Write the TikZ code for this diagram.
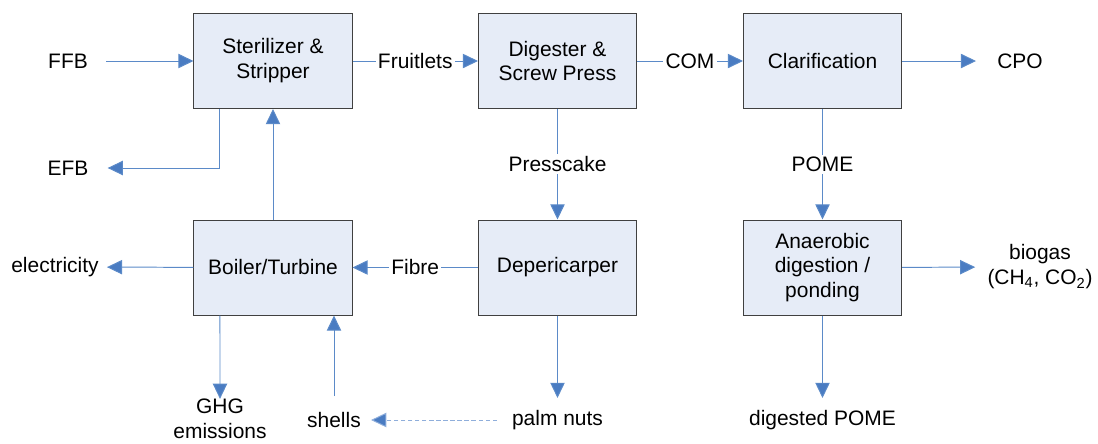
\documentclass[tikz,border=0pt]{standalone}
\usepackage{fontspec}
\setmainfont{Liberation Sans}
\usetikzlibrary{arrows.meta,positioning}

\definecolor{boxfill}{HTML}{E6ECF7}
\definecolor{linkblue}{HTML}{5B8AC8}
\definecolor{tipblue}{HTML}{4A7CC2}
\definecolor{paleblue}{HTML}{8FAEDB}

\tikzset{
  unit/.style={draw=black!75, fill=boxfill, line width=0.7pt, minimum width=3.95cm,
    minimum height=2.375cm, align=center, inner sep=0pt},
  flow/.style={draw=linkblue, line width=0.7pt,
    -{Triangle[length=0.38cm,width=0.36cm,fill=tipblue]}},
  onlink/.style={fill=white, inner sep=1.5pt},
  outer/.style={inner sep=0pt, align=center}
}

\begin{document}
\begin{tikzpicture}[x=0.025cm, y=-0.025cm, font=\fontsize{14.9}{17.7}\selectfont]
    \useasboundingbox (0,0) rectangle (1098,443);
    % Process units
    \node[unit] (ster) at (273,61) {Sterilizer \&\\Stripper};
    \node[unit] (dig) at (557.5,61) {Digester \&\\Screw Press};
    \node[unit] (clar) at (822.5,61) {Clarification};
    \node[unit] (boil) at (273,267.5) {Boiler/Turbine};
    \node[unit] (dep) at (557.5,267.5) {Depericarper};
    \node[unit] (anae) at (822.5,267.5) {Anaerobic\\digestion /\\ponding};
    % Inputs and outputs
    \node[outer] (ffb) at (68,61) {FFB};
    \node[outer] (efb) at (68,168) {EFB};
    \node[outer] (cpo) at (1020,61) {CPO};
    \node[outer] (elec) at (55,267) {electricity};
    \node[outer] (ghg) at (220,419) {GHG\\emissions};
    \node[outer] (shells) at (334,420) {shells};
    \node[outer] (nuts) at (557.5,420) {palm nuts};
    \node[outer] (biogas) at (1040,267) {biogas\\(CH\textsubscript{4}, CO\textsubscript{2})};
    \node[outer] (dpome) at (822.5,420) {digested POME};
    % Main line
    \draw[flow, shorten <=0.45cm] (ffb) -- (ster);
    \draw[flow] (ster) -- node[onlink] {Fruitlets} (dig);
    \draw[flow] (dig) -- node[onlink] {COM} (clar);
    \draw[flow, shorten >=0.525cm] (clar) -- (cpo);
    \draw[flow, shorten >=0.475cm] ([xshift=-1.325cm]ster.south) |- (efb.east);
    % Press and oil side
    \draw[flow] (dig) -- node[onlink] {Presscake} (dep);
    \draw[flow] (clar) -- node[onlink] {POME} (anae);
    \draw[flow, shorten >=0.3cm] (anae) -- (biogas);
    \draw[flow, shorten >=0.3cm] (anae) -- (dpome);
    % Boiler
    \draw[flow] (dep) -- node[onlink] {Fibre} (boil);
    \draw[flow] (boil) -- (ster);
    \draw[flow, shorten >=0.2cm] (boil) -- (elec);
    \draw[flow] ([xshift=-1.325cm]boil.south) -- (ghg.north);
    \draw[flow, shorten <=0.4cm] (shells.north) -- (boil.south -| shells.north);
    \draw[flow, shorten >=0.3cm] (dep) -- (nuts);
    % Shells from nuts
    \draw[flow, draw=paleblue, dash pattern=on 3pt off 2pt, shorten <=0.375cm, shorten >=0.25cm]
      (nuts) -- (shells);
\end{tikzpicture}
\end{document}
